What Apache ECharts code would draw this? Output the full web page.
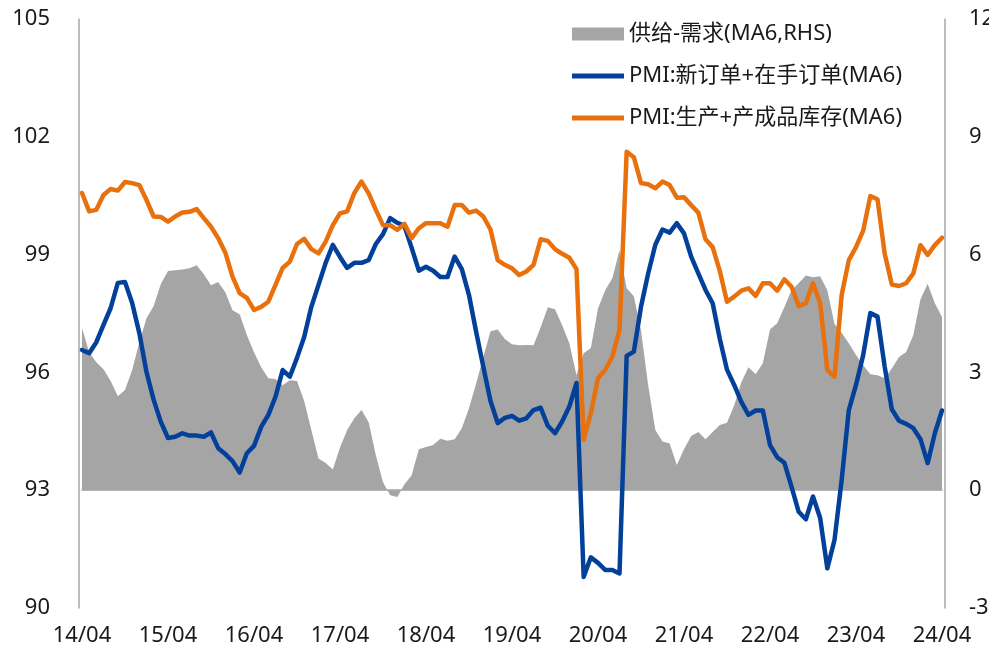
<!DOCTYPE html>
<html><head><meta charset="utf-8">
<script src="https://cdn.jsdelivr.net/npm/echarts@6/dist/echarts.min.js"></script>
<style>html,body{margin:0;padding:0;background:#fff}#c{width:989px;height:653px}</style>
</head><body><div id="c"></div>
<script>
// Monthly categories 2014-04 .. 2024-04
const startYear = 14, startMonth = 4, monthCount = 121;
const categories = [];
for (let k = 0; k < monthCount; k++) {
  const m = startMonth - 1 + k;
  const yy = startYear + Math.floor(m / 12);
  const mm = (m % 12) + 1;
  categories.push(String(yy).padStart(2,'0') + '/' + String(mm).padStart(2,'0'));
}
const leftTicks = [90, 93, 96, 99, 102, 105];
const rightTicks = [-3, 0, 3, 6, 9, 12];
const seriesNames = ['供给-需求(MA6,RHS)', 'PMI:新订单+在手订单(MA6)', 'PMI:生产+产成品库存(MA6)'];

const supplyMinusDemand = [
4.13,3.51,3.26,3.08,2.78,2.39,2.55,3.06,3.77,4.38,
4.69,5.25,5.58,5.60,5.62,5.65,5.73,5.50,5.22,5.30,
5.04,4.58,4.48,3.95,3.51,3.13,2.85,2.83,2.67,2.80,
2.78,2.27,1.53,0.81,0.69,0.53,1.09,1.53,1.83,2.04,
1.73,0.89,0.20,-0.13,-0.17,0.15,0.38,1.04,1.10,1.15,
1.31,1.26,1.30,1.58,2.09,2.72,3.39,4.05,4.09,3.85,
3.72,3.69,3.70,3.69,4.15,4.66,4.61,4.20,3.74,2.93,
3.49,3.62,4.63,5.09,5.40,6.11,5.14,4.94,4.07,2.67,
1.53,1.24,1.19,0.64,1.04,1.38,1.48,1.30,1.48,1.66,
1.72,2.16,2.75,3.13,2.95,3.23,4.09,4.25,4.66,5.09,
5.27,5.47,5.42,5.45,5.09,4.23,4.01,3.74,3.44,3.18,
2.95,2.93,2.85,3.10,3.39,3.52,3.95,4.86,5.26,4.76,
4.41];

const ordersPMI = [
96.57,96.49,96.77,97.21,97.64,98.28,98.30,97.77,97.00,96.01,
95.30,94.74,94.33,94.36,94.45,94.39,94.39,94.36,94.47,94.07,
93.92,93.74,93.45,93.94,94.13,94.61,94.92,95.38,96.06,95.89,
96.37,96.90,97.67,98.23,98.79,99.25,98.94,98.66,98.79,98.79,
98.86,99.27,99.52,99.93,99.81,99.73,99.17,98.59,98.69,98.59,
98.43,98.43,98.95,98.63,97.97,97.03,96.14,95.27,94.71,94.84,
94.89,94.77,94.83,95.04,95.10,94.64,94.45,94.75,95.13,95.73,
90.79,91.29,91.15,90.97,90.97,90.88,96.42,96.53,97.67,98.52,
99.25,99.64,99.56,99.80,99.54,98.95,98.52,98.10,97.76,96.85,
96.07,95.68,95.25,94.92,95.03,95.03,94.15,93.84,93.70,93.09,
92.45,92.26,92.84,92.29,91.01,91.73,93.26,95.04,95.68,96.44,
97.51,97.42,96.15,95.06,94.77,94.69,94.58,94.30,93.69,94.45,
95.03];

const productionPMI = [
100.57,100.10,100.14,100.52,100.67,100.63,100.85,100.82,100.77,100.39,
99.97,99.96,99.84,99.97,100.07,100.09,100.16,99.93,99.71,99.42,
99.05,98.44,98.02,97.90,97.59,97.67,97.80,98.23,98.66,98.82,
99.27,99.40,99.14,99.03,99.33,99.75,100.05,100.10,100.57,100.86,
100.56,100.14,99.75,99.75,99.63,99.78,99.42,99.67,99.80,99.80,
99.80,99.71,100.26,100.26,100.07,100.12,99.97,99.64,98.86,98.74,
98.65,98.48,98.57,98.74,99.39,99.35,99.14,99.02,98.92,98.63,
94.28,94.96,95.85,96.06,96.40,97.08,101.62,101.48,100.82,100.79,
100.69,100.86,100.77,100.45,100.46,100.26,100.07,99.39,99.19,98.58,
97.80,97.93,98.08,98.14,97.95,98.27,98.27,98.08,98.37,98.18,
97.69,97.76,98.27,97.76,96.06,95.89,97.97,98.86,99.19,99.61,
100.49,100.41,99.03,98.24,98.20,98.27,98.52,99.24,98.99,99.24,
99.43];

const GREY = '#A5A5A5', BLUE = '#03409A', ORANGE = '#E8700D', AXIS = '#A6A6A6';
const FONT = '"Noto Sans","Noto Sans CJK SC",sans-serif';

const chart = echarts.init(document.getElementById('c'), null, {renderer: 'canvas'});
chart.setOption({
  animation: false,
  backgroundColor: '#fff',
  grid: {left: 82, right: 47, top: 19, bottom: 45, containLabel: false, outerBoundsMode: 'none'},
  legend: {
    orient: 'vertical', left: 567, top: 18,
    itemWidth: 52, itemHeight: 13, itemGap: 20,
    textStyle: {fontFamily: FONT, fontSize: 22, color: '#1a1a1a', lineHeight: 22},
    data: [
      {name: seriesNames[0], icon: 'rect', itemStyle: {color: GREY}},
      {name: seriesNames[1], icon: 'path://M0,0H52V5H0Z', itemStyle: {color: BLUE}},
      {name: seriesNames[2], icon: 'path://M0,0H52V5H0Z', itemStyle: {color: ORANGE}}
    ]
  },
  xAxis: {
    type: 'category', data: categories, boundaryGap: false,
    axisLine: {lineStyle: {color: AXIS, width: 1.5}},
    axisTick: {show: false},
    axisLabel: {
      interval: 11, margin: 17, color: '#1a1a1a', fontFamily: FONT, fontSize: 22,
      showMinLabel: true, showMaxLabel: true
    },
    splitLine: {show: false}
  },
  yAxis: [
    {type: 'value', min: leftTicks[0], max: leftTicks[leftTicks.length-1], interval: 3, offset: 3,
     axisLine: {show: true, lineStyle: {color: AXIS, width: 1.5}}, axisTick: {show: false},
     axisLabel: {margin: 29, color: '#1a1a1a', fontFamily: FONT, fontSize: 22},
     splitLine: {show: false}},
    {type: 'value', min: rightTicks[0], max: rightTicks[rightTicks.length-1], interval: 3, offset: 3,
     position: 'right',
     axisLine: {show: true, lineStyle: {color: AXIS, width: 1.5}}, axisTick: {show: false},
     axisLabel: {margin: 24, color: '#1a1a1a', fontFamily: FONT, fontSize: 22},
     splitLine: {show: false}}
  ],
  series: [
    {name: seriesNames[0], type: 'line', yAxisIndex: 1, data: supplyMinusDemand,
     symbol: 'none', lineStyle: {width: 0, color: GREY}, itemStyle: {color: GREY},
     areaStyle: {color: GREY, opacity: 1, origin: 0}, z: 1},
    {name: seriesNames[1], type: 'line', yAxisIndex: 0, data: ordersPMI,
     symbol: 'none', lineStyle: {width: 4.5, color: BLUE, cap: 'round', join: 'round'}, itemStyle: {color: BLUE}, z: 3},
    {name: seriesNames[2], type: 'line', yAxisIndex: 0, data: productionPMI,
     symbol: 'none', lineStyle: {width: 4.5, color: ORANGE, cap: 'round', join: 'round'}, itemStyle: {color: ORANGE}, z: 4}
  ]
});
</script></body></html>
